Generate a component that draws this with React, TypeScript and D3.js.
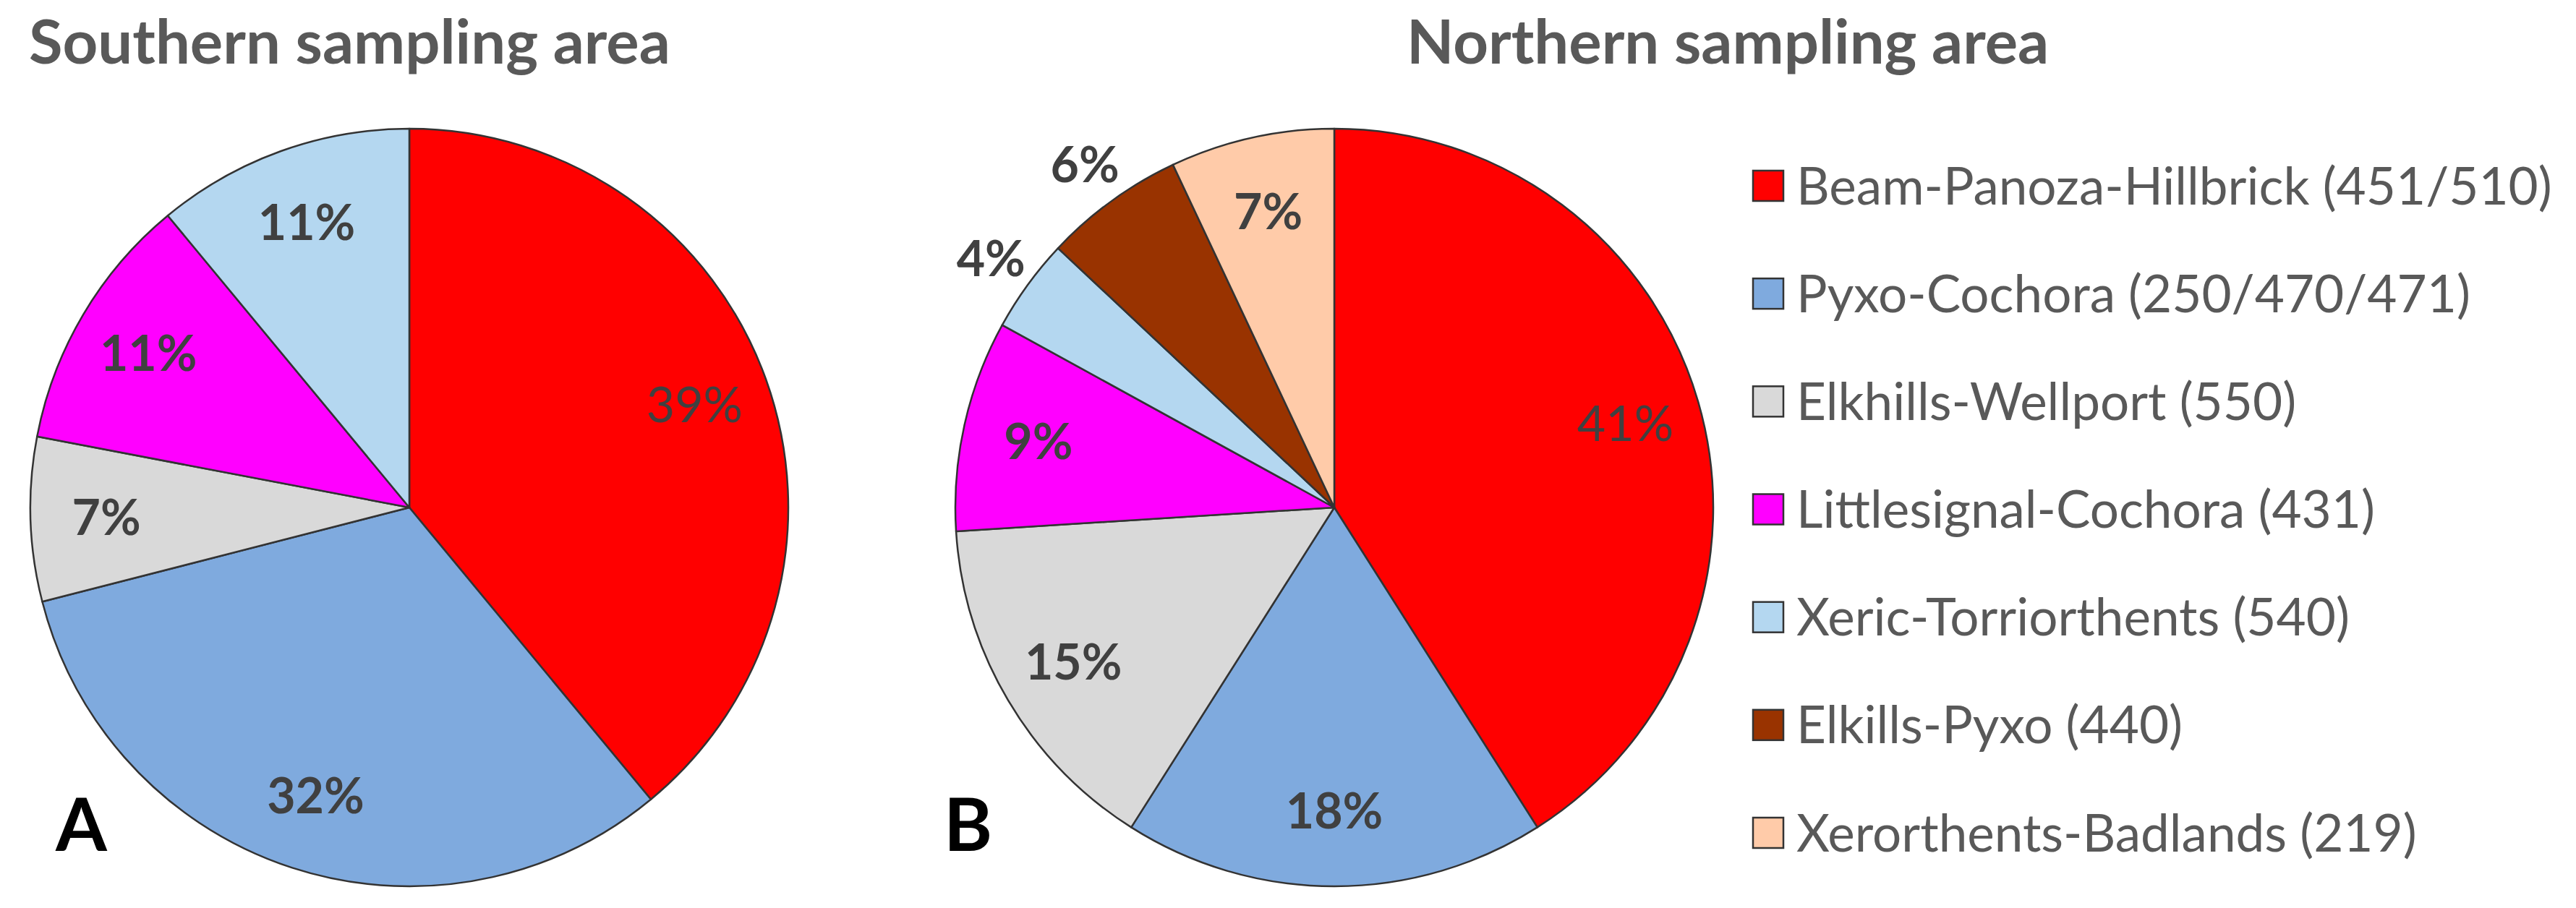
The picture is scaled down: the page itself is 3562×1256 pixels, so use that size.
import React from 'react';
import * as d3 from 'd3';

const W = 3562;
const H = 1256;

// soil map units (legend order)
const categories = [
  'Beam-Panoza-Hillbrick (451/510)',
  'Pyxo-Cochora (250/470/471)',
  'Elkhills-Wellport (550)',
  'Littlesignal-Cochora (431)',
  'Xeric-Torriorthents (540)',
  'Elkills-Pyxo (440)',
  'Xerorthents-Badlands (219)',
];
const colors = ['#ff0000', '#7faade', '#d9d9d9', '#ff00ff', '#b4d7f0', '#993300', '#ffcba9'];

// percent share, in the same order as categories
const southern = [39, 32, 7, 11, 11, 0, 0];
const northern = [41, 18, 15, 9, 4, 6, 7];

const panels = [
  { title: 'Southern sampling area', letter: 'A', values: southern },
  { title: 'Northern sampling area', letter: 'B', values: northern },
];

const FONT = 'Lato, "Open Sans", sans-serif';
const R = 524;

const pie = d3
  .pie<number>()
  .sort(null)
  .value((d) => d);

const Pie = ({ values, cx, cy }: { values: number[]; cx: number; cy: number }) => {
  const arcs = pie(values).map((a, i) => ({ ...a, i })).filter((a) => a.value > 0);
  const arc = d3.arc<any>().innerRadius(0).outerRadius(R);
  const inLabel = d3.arc<any>().innerRadius(R * 0.8).outerRadius(R * 0.8);
  const outLabel = d3.arc<any>().innerRadius(R * 1.12).outerRadius(R * 1.12);
  return (
    <g transform={`translate(${cx},${cy})`}>
      {arcs.map((a) => (
        <path key={a.i} d={arc(a) ?? ''} fill={colors[a.i]} stroke="#333" strokeWidth={2.5} strokeLinejoin="round" />
      ))}
      {arcs.map((a) => {
        const [x, y] = (a.value <= 6 ? outLabel : inLabel).centroid(a);
        return (
          <text
            key={'l' + a.i}
            x={x}
            y={y}
            dy="0.36em"
            textAnchor="middle"
            fontFamily={FONT}
            fontWeight={a.i === 0 ? 400 : 700}
            fontSize={68}
            fill="#404040"
          >
            {a.value}%
          </text>
        );
      })}
    </g>
  );
};

export default function App() {
  const centers = [566, 1845];
  const cy = 702;
  const rowY = d3.scaleLinear().domain([0, 6]).range([257, 1152]);
  return (
    <svg
      width={W}
      height={H}
      style={{ position: 'absolute', left: 0, top: 0, background: '#fff' }}
    >
      <rect width={W} height={H} fill="#fff" />
      {panels.map((p, k) => (
        <g key={p.letter}>
          <Pie values={p.values} cx={centers[k]} cy={cy} />
          <text
            x={k === 0 ? 40 : 1945}
            y={88}
            fontFamily={FONT}
            fontWeight={700}
            fontSize={85}
            fill="#595959"
          >
            {p.title}
          </text>
          <text
            x={k === 0 ? 77 : 1305}
            y={1177}
            fontFamily={FONT}
            fontWeight={700}
            fontSize={102}
            fill="#000"
          >
            {p.letter}
          </text>
        </g>
      ))}
      {categories.map((c, i) => (
        <g key={c} transform={`translate(2424,${rowY(i)})`}>
          <rect x={0} y={-21} width={42} height={42} fill={colors[i]} stroke="#333" strokeWidth={2.5} />
          <text x={60} y={0} dy="0.36em" fontFamily={FONT} fontSize={71} fill="#595959">
            {c}
          </text>
        </g>
      ))}
    </svg>
  );
}
